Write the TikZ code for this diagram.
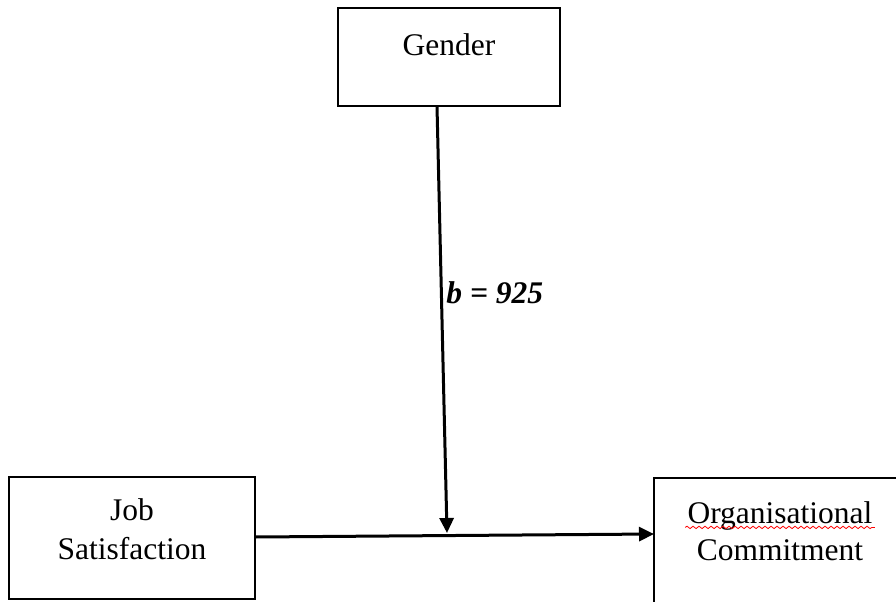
\documentclass[tikz,border=0pt]{standalone}
\usepackage{fontspec}
\setmainfont{Liberation Serif}
\usetikzlibrary{arrows.meta,decorations.pathmorphing}
\begin{document}
\begin{tikzpicture}[x=0.5pt,y=-0.5pt,
  box/.style={draw=black,line width=0.75pt,rectangle,inner sep=0pt},
  lbl/.style={font=\fontsize{15.75}{19.5}\selectfont,align=center,anchor=base,inner sep=0pt},
  conn/.style={line width=1.5pt,-{Triangle[length=7.5pt,width=7pt]}}]
\useasboundingbox (0,0) rectangle (896,601);
\clip (0,0) rectangle (896,601);
\fill[white] (0,0) rectangle (896,601);
% boxes
\node[box,minimum width=111pt,minimum height=49pt] (gender) at (449,57) {};
\node[box,minimum width=123pt,minimum height=61pt] (job) at (132,538) {};
\node[box,minimum width=126pt,minimum height=90pt] (org) at (780,568) {};
% texts
\node[lbl] (tgender) at (449,55) {Gender};
\node[lbl] (tjob1) at (132,520) {Job};
\node[lbl] (tjob2) at (132,559) {Satisfaction};
\node[lbl] (torg1) at (780,523) {Organisational};
\node[lbl] (torg2) at (780,560) {Commitment};
\draw[red,line width=0.4pt,decorate,decoration={snake,amplitude=0.6pt,segment length=3pt}]
  ([xshift=-1pt,yshift=-2.2pt]torg1.base west) -- ([xshift=1pt,yshift=-2.2pt]torg1.base east);
% connectors
\coordinate (gstart) at (437,106);
\coordinate (mid) at (447,533);
\coordinate (jstart) at (255,537);
\coordinate (oend) at (654,534);
\draw[conn] (gstart) -- (mid);
\draw[conn] (jstart) -- (oend);
\node[anchor=base west,inner sep=0pt,font=\fontsize{15.75}{19}\selectfont\bfseries\itshape] (blbl) at (446,303) {b = 925};
\end{tikzpicture}
\end{document}
